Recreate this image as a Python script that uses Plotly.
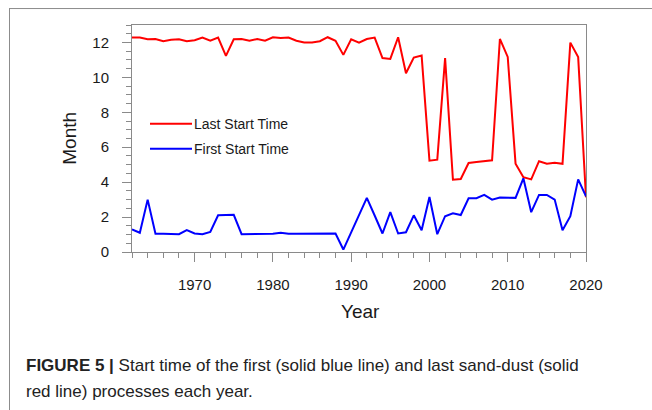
import plotly.graph_objects as go

# Years covered by the record
years = list(range(1962, 2021))

# Month of the last sand-dust process start in each year
last_start = [
    12.28, 12.28, 12.18, 12.20, 12.07, 12.16, 12.18, 12.07, 12.13, 12.28,
    12.10, 12.28, 11.23, 12.18, 12.20, 12.10, 12.20, 12.10, 12.30, 12.26,
    12.28, 12.10, 12.00, 12.00, 12.07, 12.30, 12.10, 11.29, 12.18, 11.99,
    12.20, 12.28, 11.11, 11.06, 12.30, 10.24, 11.13, 11.25, 5.23, 5.29,
    11.10, 4.14, 4.18, 5.10, 5.15, 5.20, 5.25, 12.20, 11.17, 5.06,
    4.28, 4.16, 5.20, 5.06, 5.11, 5.05, 11.99, 11.16, 3.13,
]

# Month of the first sand-dust process start in each year
first_start = [
    1.29, 1.10, 3.00, 1.04, 1.04, 1.02, 1.02, 1.25, 1.06, 1.02,
    1.15, 2.10, 2.10, 2.13, 1.02, 1.02, 1.06, 1.04, 1.04, 1.10,
    1.04, 1.04, 1.04, 1.08, 1.04, 1.04, 1.06, 0.14, 1.13, 2.11,
    3.10, 2.09, 1.06, 2.28, 1.06, 1.13, 2.10, 1.25, 3.15, 1.02,
    2.05, 2.22, 2.12, 3.08, 3.08, 3.27, 3.00, 3.12, 3.10, 3.10,
    4.22, 2.28, 3.27, 3.27, 3.00, 1.25, 2.05, 4.16, 3.19,
]

series_names = ["Last Start Time", "First Start Time"]
series_colors = ["#ff0000", "#0000ff"]
x_ticks = [1970, 1980, 1990, 2000, 2010, 2020]
y_ticks = [0, 2, 4, 6, 8, 10, 12]

W, H = 652, 410
L, R, T, B = 132, 586, 25, 252.5  # plot box in pixels


def px_x(px):
    return (px - L) / (R - L)


def px_y(py):
    return (B - py) / (B - T)


FONT = "Liberation Sans, Arial, Helvetica, sans-serif"
AXIS_GRAY = "#8a8a8a"

fig = go.Figure()
for name, vals, col in zip(series_names, [last_start, first_start], series_colors):
    fig.add_trace(go.Scatter(
        x=years, y=vals, mode="lines", name=name,
        line=dict(color=col, width=2), showlegend=False,
    ))

axis_common = dict(
    showline=True, mirror=True, linecolor=AXIS_GRAY, linewidth=1,
    showgrid=False, zeroline=False, ticks="outside", ticklen=9,
    tickwidth=1, tickcolor=AXIS_GRAY,
    tickfont=dict(family=FONT, size=15, color="#1a1a1a"),
)

fig.update_xaxes(
    range=[1962, 2020], tickvals=x_ticks, ticklabelstandoff=10,
    minor=dict(dtick=2, tick0=1962, ticks="outside", ticklen=5,
               tickcolor=AXIS_GRAY, tickwidth=1),
    **axis_common,
)
fig.update_yaxes(
    range=[0, 13], tickvals=y_ticks, ticklabelstandoff=10,
    minor=dict(dtick=0.5, tick0=0, ticks="outside", ticklen=5,
               tickcolor=AXIS_GRAY, tickwidth=1),
    **axis_common,
)

CAPTION_FONT = dict(family=FONT, size=17, color="#222222")

annotations = [
    dict(text="Month", x=px_x(70), y=px_y(139), textangle=-90,
         font=dict(family=FONT, size=19, color="#1a1a1a")),
    dict(text="Year", x=px_x(360), y=px_y(312),
         font=dict(family=FONT, size=19, color="#1a1a1a")),
    dict(text="<b>FIGURE 5 |</b> Start time of the first (solid blue line) and last sand-dust (solid",
         x=px_x(24), y=px_y(366), xanchor="left", font=CAPTION_FONT),
    dict(text="red line) processes each year.",
         x=px_x(24), y=px_y(392), xanchor="left", font=CAPTION_FONT),
]

# Legend keys drawn inside the plot box
shapes = []
for i, (name, col) in enumerate(zip(series_names, series_colors)):
    ky = 124 + 25 * i
    shapes.append(dict(type="line", xref="paper", yref="paper",
                       x0=px_x(150), x1=px_x(192), y0=px_y(ky), y1=px_y(ky),
                       line=dict(color=col, width=2)))
    annotations.append(dict(text=name, x=px_x(192), y=px_y(ky), xanchor="left",
                            font=dict(family=FONT, size=14, color="#1a1a1a")))

# Outer frame around the figure panel
shapes.append(dict(type="line", xref="paper", yref="paper",
                   x0=px_x(9), x1=px_x(W + 2), y0=px_y(8.5), y1=px_y(8.5),
                   line=dict(color="#8c8c8c", width=1)))
shapes.append(dict(type="line", xref="paper", yref="paper",
                   x0=px_x(9.5), x1=px_x(9.5), y0=px_y(8), y1=px_y(H + 2),
                   line=dict(color="#8c8c8c", width=1)))

for a in annotations:
    a.setdefault("xanchor", "center")
    a.update(xref="paper", yref="paper", showarrow=False, yanchor="middle")

fig.update_layout(
    width=W, height=H,
    margin=dict(l=L, r=W - R, t=T, b=H - B, pad=0),
    paper_bgcolor="white", plot_bgcolor="white",
    annotations=annotations, shapes=shapes,
    showlegend=False,
)

fig.write_html("out.html")
